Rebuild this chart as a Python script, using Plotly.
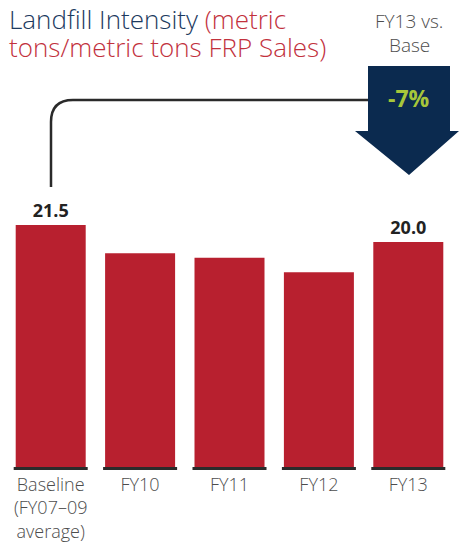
import plotly.graph_objects as go

categories = ["Baseline<br>(FY07–09<br>average)", "FY10", "FY11", "FY12", "FY13"]
values = [21.5, 19.0, 18.6, 17.3, 20.0]
labeled = [True, False, False, False, True]
change_label = "-7%"

W, H = 459, 544
ML, MR, MT, MB = 6, 6, 0, 77
PW, PH = W - ML - MR, H - MT - MB


def px(x):
    return (x - ML) / PW


def py(y):
    return (H - MB - y) / PH


BAR = "#b8202f"
NAVY = "#0b2a4f"
RED = "#c2313d"
GRAY = "#4d4d4d"
FONT = "Open Sans"

texts = [f"{v:.1f}" if show else "" for v, show in zip(values, labeled)]

fig = go.Figure()
fig.add_trace(go.Bar(
    x=list(range(len(categories))), y=values, marker=dict(color=BAR, line=dict(width=0)),
    text=texts, textposition="outside", cliponaxis=False,
    textfont=dict(family=FONT, size=18, color="#222222", weight="bold"),
    hoverinfo="skip",
))

shapes = []
for i in range(len(categories)):
    shapes.append(dict(type="line", xref="x", yref="paper", x0=i - 0.414, x1=i + 0.414,
                       y0=-1.5 / PH, y1=-1.5 / PH, line=dict(color="#2b2b2b", width=3)))

# connector
path = (f"M {px(51)},{py(187)} L {px(51)},{py(122)} Q {px(51)},{py(100)} {px(73)},{py(100)} "
        f"L {px(370)},{py(100)}")
shapes.append(dict(type="path", xref="paper", yref="paper", path=path,
                   line=dict(color="#2a2a2a", width=2.5)))

# arrow
pts = [(368, 66), (450, 66), (450, 131), (459, 131), (409, 175), (355, 131), (368, 131)]
arrow = "M " + " L ".join(f"{px(a)},{py(b)}" for a, b in pts) + " Z"
shapes.append(dict(type="path", xref="paper", yref="paper", path=arrow,
                   fillcolor=NAVY, line=dict(width=0)))

ann = []
ann.append(dict(x=px(7), y=py(-1), xref="paper", yref="paper", xanchor="left", yanchor="top",
                showarrow=False, align="left",
                text=f"<span style='color:#1c3a60'>Landfill Intensity</span> (metric",
                font=dict(family=FONT, size=26, color=RED, weight=300)))
ann.append(dict(x=px(7), y=py(27), xref="paper", yref="paper", xanchor="left", yanchor="top",
                showarrow=False, align="left", text="tons/metric tons FRP Sales)",
                font=dict(family=FONT, size=26, color=RED, weight=300)))
ann.append(dict(x=px(409), y=py(6), xref="paper", yref="paper", xanchor="center", yanchor="top",
                showarrow=False, text="FY13 vs.",
                font=dict(family=FONT, size=19, color=GRAY, weight=300)))
ann.append(dict(x=px(409), y=py(30), xref="paper", yref="paper", xanchor="center", yanchor="top",
                showarrow=False, text="Base",
                font=dict(family=FONT, size=19, color=GRAY, weight=300)))
ann.append(dict(x=px(409), y=py(98), xref="paper", yref="paper", xanchor="center", yanchor="middle",
                showarrow=False, text=change_label,
                font=dict(family=FONT, size=23, color="#a6c63a", weight="bold")))

fig.update_layout(
    width=W, height=H, margin=dict(l=ML, r=MR, t=MT, b=MB, autoexpand=False),
    paper_bgcolor="white", plot_bgcolor="white", showlegend=False,
    bargap=0.217, shapes=shapes, annotations=ann,
    xaxis=dict(tickmode="array", tickvals=list(range(len(categories))), ticktext=categories,
               range=[-0.5, len(categories) - 0.5], showgrid=False, zeroline=False,
               showline=False, ticks="", ticklabelstandoff=5, automargin=False,
               tickfont=dict(family=FONT, size=18, color=GRAY, weight=300)),
    yaxis=dict(range=[0, 467 / (242 / 21.5)], visible=False, showgrid=False, zeroline=False),
)

fig.write_html("out.html", config={"displayModeBar": False},
               post_script="document.body.style.margin='0';document.body.style.overflow='hidden';")
